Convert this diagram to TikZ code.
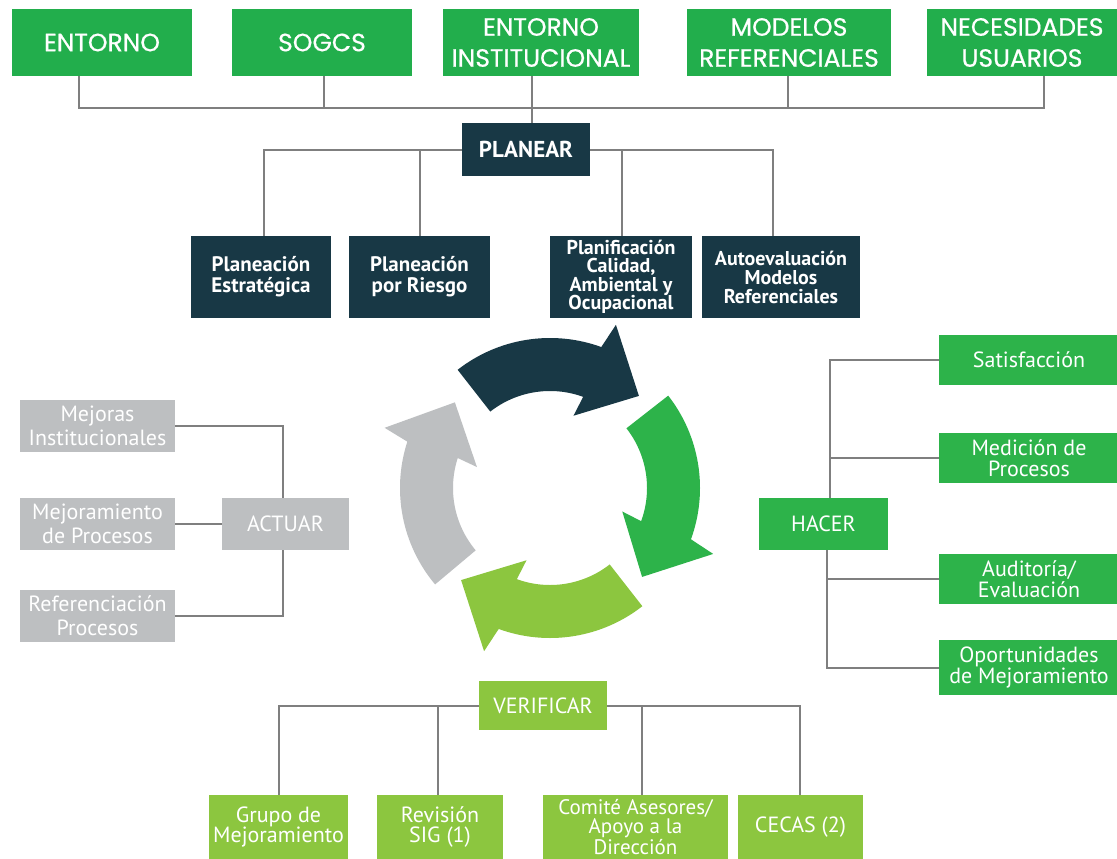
\documentclass[tikz,border=0pt]{standalone}
\usepackage{fontspec}
\setmainfont{PT Sans}
\newfontfamily\topfont{Poppins}[FakeBold=0.6]
\usetikzlibrary{calc}
\definecolor{gtop}{HTML}{22AE4C}
\definecolor{ghac}{HTML}{2DB34A}
\definecolor{darkb}{HTML}{183845}
\definecolor{lgr}{HTML}{8CC63F}
\definecolor{gry}{HTML}{BDBFC1}
\definecolor{wirec}{HTML}{7F7F7F}
\begin{document}
\begin{tikzpicture}[x=1pt,y=1pt,
  anybox/.style={inner sep=0pt, align=center, text=white},
  topbox/.style={anybox, fill=gtop, minimum height=67pt, font=\topfont\fontsize{25}{31}\selectfont},
  darkbox/.style={anybox, fill=darkb, minimum height=82pt, font=\bfseries\fontsize{21}{21}\selectfont},
  graybox/.style={anybox, fill=gry, minimum width=155pt, minimum height=52pt, font=\fontsize{22}{24}\selectfont},
  hacbox/.style={anybox, fill=ghac, minimum width=180pt, minimum height=50pt, font=\fontsize{22}{21}\selectfont},
  verbox/.style={anybox, fill=lgr, minimum height=64pt, font=\fontsize{22}{20}\selectfont},
  wire/.style={draw=wirec, line width=2pt}]
\useasboundingbox (0,0) rectangle (1117,-859);
\fill[white] (0,0) rectangle (1117,-859);

% top row
\node[topbox, minimum width=180pt] (ent) at (102,-42.5) {ENTORNO};
\node[topbox, minimum width=180pt] (sog) at (322,-42.5) {SOGCS};
\node[topbox, minimum width=196pt] (ei) at (541,-42.5) {ENTORNO\\INSTITUCIONAL};
\node[topbox, minimum width=204pt] (mod) at (789,-42.5) {MODELOS\\REFERENCIALES};
\node[topbox, minimum width=190pt] (nec) at (1022,-42.5) {NECESIDADES\\USUARIOS};

% planear
\node[anybox, fill=darkb, minimum width=128pt, minimum height=53pt, font=\bfseries\fontsize{23}{23}\selectfont] (pla) at (526,-149.5) {PLANEAR};
\node[darkbox, minimum width=140pt] (pe) at (261,-277) {Planeación\\Estratégica};
\node[darkbox, minimum width=141pt] (pr) at (419.5,-277) {Planeación\\por Riesgo};
\node[darkbox, minimum width=142pt, font=\bfseries\fontsize{20}{18.5}\selectfont] (pc) at (621,-277) {Planificación\\Calidad,\\Ambiental y\\Ocupacional};
\node[darkbox, minimum width=158pt, font=\bfseries\fontsize{20}{19}\selectfont] (am) at (781,-277) {Autoevaluación\\Modelos\\Referenciales};

% actuar
\node[graybox] (mi) at (97.5,-426) {Mejoras\\Institucionales};
\node[graybox] (mp) at (97.5,-524) {Mejoramiento\\de Procesos};
\node[graybox] (rp) at (97.5,-616) {Referenciación\\Procesos};
\node[graybox, minimum width=127pt] (act) at (285.5,-524) {ACTUAR};

% hacer
\node[hacbox] (sat) at (1029,-360) {Satisfacción};
\node[hacbox] (med) at (1029,-458) {Medición de\\Procesos};
\node[hacbox, minimum width=129pt, minimum height=52pt] (hac) at (823.5,-524) {HACER};
\node[hacbox] (aud) at (1029,-579) {Auditoría/\\Evaluación};
\node[hacbox, minimum height=55pt] (opo) at (1029,-667.5) {Oportunidades\\de Mejoramiento};

% verificar
\node[verbox, minimum width=128pt, minimum height=49pt] (ver) at (543,-705.5) {VERIFICAR};
\node[verbox, minimum width=139pt] (gm) at (278.5,-827) {Grupo de\\Mejoramiento};
\node[verbox, minimum width=126pt] (rs) at (440,-827) {Revisión\\SIG (1)};
\node[verbox, minimum width=185pt, font=\fontsize{21}{17.5}\selectfont] (ca) at (635.5,-827) {Comité Asesores/\\Apoyo a la\\Dirección};
\node[verbox, minimum width=125pt] (ce) at (800.5,-827) {CECAS (2)};

% connectors: top
\coordinate (t1) at (79,-108);
\coordinate (t2) at (324,-108);
\coordinate (t3) at (532,-108);
\coordinate (t4) at (788,-108);
\coordinate (t5) at (1044,-108);
\draw[wire] (ent.south -| t1) -- (t1) -- (t5) -- (nec.south -| t5);
\draw[wire] (sog.south -| t2) -- (t2);
\draw[wire] (mod.south -| t4) -- (t4);
\draw[wire] (ei.south -| t3) -- (pla.north -| t3);

% planear
\coordinate (p1) at (264,0);
\coordinate (p2) at (420,0);
\coordinate (p3) at (622,0);
\coordinate (p4) at (773,0);
\draw[wire] (pla.west) -- (pla.west -| p1) -- (pe.north -| p1);
\draw[wire] (pla.west -| p2) -- (pr.north -| p2);
\draw[wire] (pla.east) -- (pla.east -| p4) -- (am.north -| p4);
\draw[wire] (pla.east -| p3) -- (pc.north -| p3);

% actuar
\coordinate (a1) at (283,0);
\draw[wire] (mi.east) -- (mi.east -| a1) -- (act.north -| a1);
\draw[wire] (rp.east) -- (rp.east -| a1) -- (act.south -| a1);
\draw[wire] (mp.east) -- (act.west);

% hacer
\coordinate (h1) at (830,0);
\coordinate (h2) at (827,0);
\draw[wire] (sat.west) -- (sat.west -| h1) -- (hac.north -| h1);
\draw[wire] (med.west) -- (med.west -| h1);
\draw[wire] (hac.south -| h2) -- (opo.west -| h2) -- (opo.west);
\draw[wire] (aud.west) -- (aud.west -| h2);

% verificar
\coordinate (v1) at (279,0);
\coordinate (v2) at (438,0);
\coordinate (v3) at (642,0);
\coordinate (v4) at (800,0);
\draw[wire] (ver.west) -- (ver.west -| v1) -- (gm.north -| v1);
\draw[wire] (ver.west -| v2) -- (rs.north -| v2);
\draw[wire] (ver.east) -- (ver.east -| v4) -- (ce.north -| v4);
\draw[wire] (ver.east -| v3) -- (ca.north -| v3);

% cycle
\coordinate (C) at (550,-488);
\foreach \T/\col in {128/darkb, 38/ghac, -52/lgr, -140/gry}{
  \fill[\col] ($(C)+(\T:150pt)$) arc[start angle=\T, end angle=\T-58, radius=150pt]
    -- ($(C)+(\T-60:176pt)$) -- ($(C)+(\T-82:128pt)$) -- ($(C)+(\T-56:76pt)$)
    -- ($(C)+(\T-58:97pt)$) arc[start angle=\T-58, end angle=\T, radius=97pt] -- cycle;
}
\end{tikzpicture}
\end{document}
